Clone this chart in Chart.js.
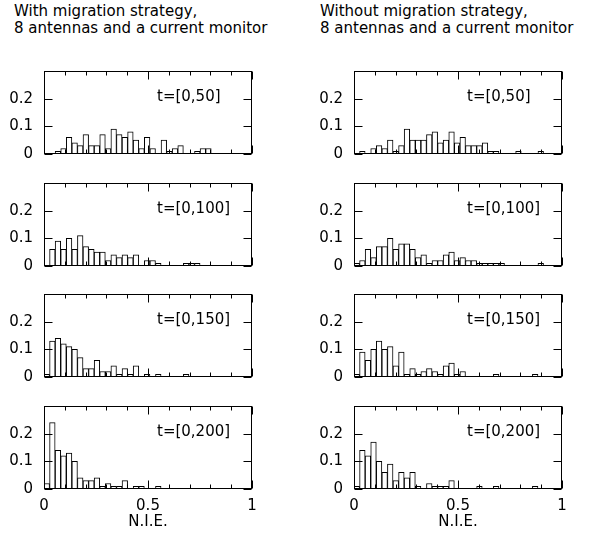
<!DOCTYPE html>
<html>
<head>
<meta charset="utf-8">
<script src="https://cdn.jsdelivr.net/npm/chart.js@4"></script>
<style>
  html, body { margin: 0; padding: 0; background: #fff; }
  #page { position: relative; width: 602px; height: 534px; overflow: hidden; }
  .title {
    position: absolute; top: 3px;
    font: 15px "DejaVu Sans", sans-serif;
    line-height: 17px; color: #000; white-space: nowrap;
  }
  canvas { position: absolute; }
</style>
</head>
<body>
<div id="page">
  <div class="title" style="left:14px">With migration strategy,<br>8 antennas and a current monitor</div>
  <div class="title" style="left:320px">Without migration strategy,<br>8 antennas and a current monitor</div>
</div>
<script>
(() => {
  'use strict';

  // ===== Dados (frequência relativa por classe de N.I.E.) =====
  const binCenters = [
    0.0134, 0.0402, 0.0670, 0.0938, 0.1206, 0.1474, 0.1742, 0.2010, 0.2278, 0.2546,
    0.2814, 0.3082, 0.3350, 0.3618, 0.3886, 0.4154, 0.4422, 0.4690, 0.4958, 0.5226,
    0.5494, 0.5762, 0.6030, 0.6298, 0.6566, 0.6834, 0.7102, 0.7370, 0.7638, 0.7906,
    0.8174, 0.8442, 0.8710, 0.8978
  ];

  // com estratégia de migração
  const withMig50  = [0, 0, 0.01, 0.02, 0.06, 0.04, 0.03, 0.07, 0.03, 0.03, 0.07, 0.02, 0.09, 0.07, 0.06, 0.08, 0.05, 0.02, 0.06, 0.02, 0, 0.05, 0.01, 0.02, 0.03, 0, 0, 0.01, 0.02, 0.02, 0, 0, 0, 0];
  const withMig100 = [0, 0.06, 0.09, 0.06, 0.10, 0.06, 0.11, 0.07, 0.06, 0.05, 0.05, 0.02, 0.04, 0.03, 0.04, 0.03, 0.04, 0, 0.02, 0.02, 0.01, 0, 0, 0, 0, 0.01, 0.01, 0.01, 0, 0, 0, 0, 0, 0];
  const withMig150 = [0.01, 0.13, 0.14, 0.12, 0.11, 0.10, 0.07, 0.03, 0.03, 0.06, 0.02, 0.02, 0.04, 0.01, 0.03, 0.01, 0.04, 0, 0.01, 0, 0.01, 0, 0, 0, 0, 0.01, 0, 0, 0, 0, 0, 0, 0, 0];
  const withMig200 = [0.02, 0.24, 0.14, 0.12, 0.13, 0.10, 0.04, 0.03, 0.03, 0.04, 0.01, 0.02, 0.01, 0.01, 0.03, 0, 0.01, 0.01, 0, 0, 0.01, 0, 0, 0, 0, 0, 0, 0, 0, 0, 0, 0, 0, 0];

  // sem estratégia de migração
  const noMig50  = [0, 0.01, 0, 0.02, 0.03, 0.02, 0.05, 0.01, 0.03, 0.09, 0.05, 0.05, 0.05, 0.07, 0.08, 0.04, 0.05, 0.08, 0.04, 0.06, 0.03, 0.03, 0.03, 0.04, 0.01, 0.01, 0, 0, 0, 0.01, 0, 0, 0, 0.01];
  const noMig100 = [0.01, 0.02, 0.06, 0.03, 0.07, 0.07, 0.10, 0.06, 0.08, 0.08, 0.06, 0.03, 0.04, 0.01, 0.02, 0.02, 0.04, 0.05, 0.02, 0.03, 0.02, 0.02, 0.01, 0.01, 0.01, 0.01, 0.01, 0, 0, 0, 0, 0, 0, 0.01];
  const noMig150 = [0.01, 0.09, 0.06, 0.10, 0.13, 0.10, 0.11, 0.04, 0.09, 0.01, 0.03, 0.01, 0.02, 0.03, 0.02, 0.01, 0.04, 0.05, 0.01, 0.02, 0, 0, 0, 0, 0, 0.01, 0, 0, 0, 0, 0, 0, 0.01, 0];
  const noMig200 = [0.01, 0.14, 0.12, 0.17, 0.10, 0.06, 0.09, 0.03, 0.06, 0.04, 0.06, 0.01, 0, 0.02, 0.01, 0.01, 0.01, 0.03, 0, 0, 0, 0, 0.01, 0, 0, 0.01, 0, 0, 0, 0, 0, 0, 0.01, 0];

  const periods      = ['t=[0,50]', 't=[0,100]', 't=[0,150]', 't=[0,200]'];
  const xTickLabels  = [0, 0.5, 1];
  const xMinorTicks  = [0.1, 0.2, 0.3, 0.4, 0.6, 0.7, 0.8, 0.9];
  const yTickLabels  = [0, 0.1, 0.2];
  const yMax         = 0.3;
  const xTitle       = 'N.I.E.';

  const columns = [
    { left: 0,   series: [withMig50, withMig100, withMig150, withMig200] },
    { left: 310, series: [noMig50, noMig100, noMig150, noMig200] }
  ];

  // ===== Layout =====
  const FONT      = '"DejaVu Sans", sans-serif';
  const ROW_TOPS  = [71, 183, 294, 406];  // topo do quadro de cada linha
  const FRAME_H   = 83;
  const PAD       = 12;
  const AXIS_W    = 44;
  const X_AXIS_H  = 42;
  const CANVAS_W  = 262;

  // ===== Plugin: moldura, ticks internos e rótulo do período =====
  const framePlugin = {
    id: 'frame',
    afterDatasetsDraw(chart, args, opts) {
      const { ctx, chartArea: a, scales: { x, y } } = chart;
      const L = Math.round(a.left) + 0.5, R = Math.round(a.right) - 0.5;
      const T = Math.round(a.top) + 0.5,  B = Math.round(a.bottom) - 0.5;
      ctx.save();
      ctx.strokeStyle = '#000';
      ctx.lineWidth = 1;
      ctx.strokeRect(L, T, R - L, B - T);
      ctx.beginPath();
      const xTick = (v, len) => {
        const px = Math.round(x.getPixelForValue(v)) + 0.5;
        ctx.moveTo(px, B); ctx.lineTo(px, B - len);
        ctx.moveTo(px, T); ctx.lineTo(px, T + len);
      };
      xTickLabels.forEach(v => xTick(v, 8));
      xMinorTicks.forEach(v => xTick(v, 4));
      yTickLabels.forEach(v => {
        const py = Math.round(y.getPixelForValue(v)) + 0.5;
        ctx.moveTo(L, py); ctx.lineTo(L + 8, py);
        ctx.moveTo(R, py); ctx.lineTo(R - 8, py);
      });
      ctx.stroke();
      ctx.fillStyle = '#000';
      ctx.font = '15px ' + FONT;
      ctx.textBaseline = 'middle';
      ctx.fillText(opts.label, a.left + 113, a.top + 26.5);
      ctx.restore();
    }
  };

  // ===== Criação dos gráficos =====
  const page = document.getElementById('page');

  function makePanel(col, row) {
    const bottomRow = row === ROW_TOPS.length - 1;
    const cvs = document.createElement('canvas');
    cvs.width = CANVAS_W;
    cvs.height = PAD + FRAME_H + (bottomRow ? X_AXIS_H : PAD);
    cvs.style.left = col.left + 'px';
    cvs.style.top = (ROW_TOPS[row] - PAD) + 'px';
    page.appendChild(cvs);

    const values = col.series[row];
    new Chart(cvs.getContext('2d'), {
      type: 'bar',
      data: {
        datasets: [{
          data: binCenters.map((c, i) => ({ x: c, y: values[i] })),
          backgroundColor: '#fff',
          borderColor: '#000',
          borderWidth: 1,
          borderSkipped: false,
          barPercentage: 1,
          categoryPercentage: 1
        }]
      },
      options: {
        responsive: false,
        animation: false,
        events: [],
        layout: { padding: { top: PAD, right: 10, bottom: bottomRow ? 0 : PAD, left: 0 } },
        plugins: {
          legend: { display: false },
          tooltip: { enabled: false },
          frame: { label: periods[row] }
        },
        scales: {
          x: {
            type: 'linear', min: 0, max: 1, offset: false,
            grid: { display: false, drawTicks: false },
            border: { display: false },
            afterBuildTicks: s => { s.ticks = xTickLabels.map(v => ({ value: v })); },
            afterFit: s => {
              s.height = bottomRow ? X_AXIS_H : 0;
              s.paddingLeft = 0; s.paddingRight = 0;
            },
            ticks: {
              display: bottomRow, padding: 8, maxRotation: 0,
              color: '#000', font: { family: FONT, size: 15 },
              callback: v => String(v)
            },
            title: {
              display: bottomRow, text: xTitle, color: '#000',
              padding: 0, font: { family: FONT, size: 15 }
            }
          },
          y: {
            min: 0, max: yMax,
            grid: { display: false, drawTicks: false },
            border: { display: false },
            afterBuildTicks: s => { s.ticks = yTickLabels.map(v => ({ value: v })); },
            afterFit: s => {
              s.width = AXIS_W;
              s.paddingTop = 0; s.paddingBottom = 0;
            },
            ticks: {
              padding: 11, color: '#000',
              font: { family: FONT, size: 15 },
              callback: v => String(v)
            }
          }
        }
      },
      plugins: [framePlugin]
    });
  }

  columns.forEach(col => ROW_TOPS.forEach((t, row) => makePanel(col, row)));
})();
</script>
</body>
</html>
